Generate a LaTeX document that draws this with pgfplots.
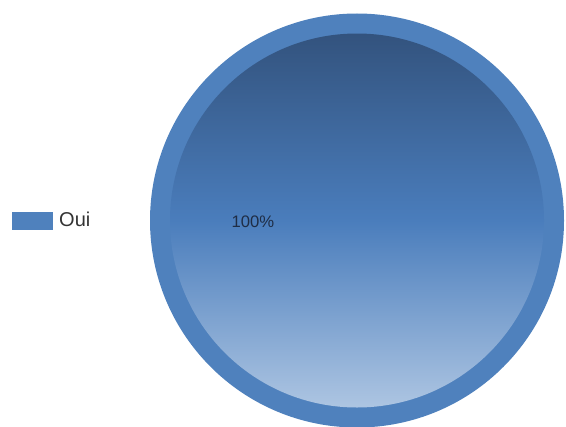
\documentclass[border=0pt]{standalone}
\usepackage{pgfplots}
\usepackage{pgfplotstable}
\usepackage{fontspec}
\setmainfont{Liberation Sans}
\pgfplotsset{compat=1.18}
\definecolor{ring}{HTML}{4F81BD}
\definecolor{topc}{HTML}{33537E}
\definecolor{midc}{HTML}{4A7DBC}
\definecolor{botc}{HTML}{ADC5E2}
\definecolor{lbl}{HTML}{1F2D45}
\pgfplotstableread{
label value
Oui 100
}\piedata
\begin{document}
\begin{tikzpicture}
\pgfplotstablegetelem{0}{value}\of\piedata \let\vOui\pgfplotsretval
\begin{axis}[
  x=0.75pt, y=0.75pt,
  xmin=0, xmax=566, ymin=0, ymax=426,
  hide axis,
  legend style={at={(axis cs:12,205.5)}, anchor=west, draw=none, fill=none,
    inner sep=0pt, outer sep=0pt, nodes={inner sep=0pt}, column sep=5pt,
    font=\fontsize{15}{18}\selectfont, text=black!80},
]
\coordinate (bl) at (axis cs:0,0);
\coordinate (tr) at (axis cs:566,426);
\begin{scope}
\clip (axis cs:0,0) rectangle (axis cs:566,426);
\fill[ring] (axis cs:357,205.5) circle[radius=207];
\shade[top color=topc, bottom color=botc, middle color=midc] (axis cs:357,205.5) circle[radius=187];
\end{scope}
\node[font=\fontsize{12.5}{15}\selectfont, text=lbl] at (axis cs:253,204) {\vOui\%};
\addlegendimage{legend image code/.code={\fill[ring] (0pt,-6.4pt) rectangle (30pt,6.4pt);}}
\addlegendentry{Oui}
\end{axis}
\pgfresetboundingbox
\path[use as bounding box] (bl) rectangle (tr);
\end{tikzpicture}
\end{document}
